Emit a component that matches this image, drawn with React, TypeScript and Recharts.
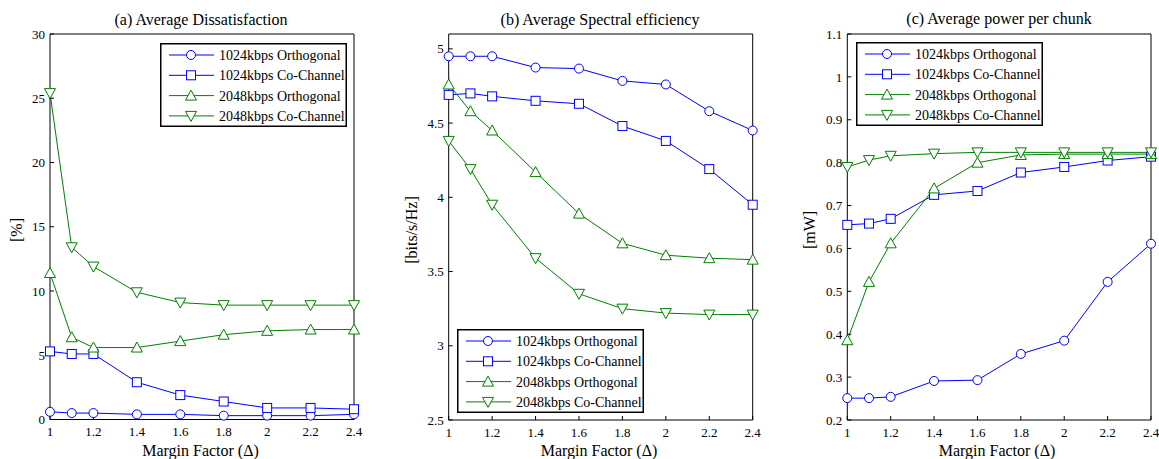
import React from "react";
import { LineChart, Line, XAxis, YAxis } from "recharts";

const margins = [1, 1.1, 1.2, 1.4, 1.6, 1.8, 2, 2.2, 2.4];
const xTicks = [1, 1.2, 1.4, 1.6, 1.8, 2, 2.2, 2.4];

const seriesNames = [
  "1024kbps Orthogonal",
  "1024kbps Co-Channel",
  "2048kbps Orthogonal",
  "2048kbps Co-Channel",
];

// (a) Average Dissatisfaction [%]
const dissOrth1024 = [0.6, 0.5, 0.5, 0.4, 0.4, 0.3, 0.3, 0.3, 0.4];
const dissCo1024 = [5.3, 5.1, 5.1, 2.9, 1.9, 1.4, 0.9, 0.9, 0.8];
const dissOrth2048 = [11.4, 6.4, 5.6, 5.6, 6.1, 6.6, 6.9, 7.0, 7.0];
const dissCo2048 = [25.4, 13.4, 11.9, 9.9, 9.1, 8.9, 8.9, 8.9, 8.9];
const dissTicks = [0, 5, 10, 15, 20, 25, 30];

// (b) Average Spectral efficiency [bits/s/Hz]
const seOrth1024 = [4.95, 4.95, 4.95, 4.874, 4.867, 4.784, 4.76, 4.58, 4.45];
const seCo1024 = [4.69, 4.7, 4.68, 4.65, 4.63, 4.48, 4.38, 4.19, 3.95];
const seOrth2048 = [4.76, 4.58, 4.45, 4.17, 3.89, 3.69, 3.61, 3.59, 3.58];
const seCo2048 = [4.38, 4.19, 3.95, 3.59, 3.35, 3.25, 3.22, 3.21, 3.21];
const seTicks = [2.5, 3, 3.5, 4, 4.5, 5];

// (c) Average power per chunk [mW]
const pwOrth1024 = [0.251, 0.251, 0.254, 0.291, 0.293, 0.354, 0.385, 0.522, 0.611];
const pwCo1024 = [0.655, 0.658, 0.669, 0.725, 0.734, 0.777, 0.79, 0.805, 0.814];
const pwOrth2048 = [0.386, 0.522, 0.612, 0.74, 0.8, 0.818, 0.82, 0.82, 0.82];
const pwCo2048 = [0.79, 0.806, 0.816, 0.821, 0.824, 0.824, 0.824, 0.824, 0.824];
const pwTicks = [0.2, 0.3, 0.4, 0.5, 0.6, 0.7, 0.8, 0.9, 1, 1.1];

const BLUE = "#0000ff";
const GREEN = "#008000";
const FONT = "'Liberation Serif', 'Times New Roman', serif";
const colors = [BLUE, BLUE, GREEN, GREEN];
const shapes = ["circle", "square", "up", "down"];

function Marker({ shape, cx, cy, color }: { shape: string; cx: number; cy: number; color: string }) {
  if (cx == null || cy == null || isNaN(cx) || isNaN(cy)) return null;
  const common = { fill: "#fff", stroke: color, strokeWidth: 1 };
  if (shape === "circle") return <circle cx={cx} cy={cy} r={4.5} {...common} />;
  if (shape === "square") return <rect x={cx - 4.5} y={cy - 4.5} width={9} height={9} {...common} />;
  if (shape === "up")
    return <polygon points={`${cx},${cy - 5.5} ${cx + 5.5},${cy + 4.5} ${cx - 5.5},${cy + 4.5}`} {...common} />;
  return <polygon points={`${cx},${cy + 5.5} ${cx + 5.5},${cy - 4.5} ${cx - 5.5},${cy - 4.5}`} {...common} />;
}

function Legend({ x, y }: { x: number; y: number }) {
  return (
    <svg
      style={{ position: "absolute", left: x, top: y, overflow: "visible" }}
      width={187}
      height={84}
    >
      <rect x={0.75} y={0.75} width={185.5} height={82.5} fill="#fff" stroke="#000" strokeWidth={1.5} />
      {seriesNames.map((name, i) => {
        const ry = 12 + i * 20.3;
        return (
          <g key={name}>
            <line x1={9} x2={54} y1={ry} y2={ry} stroke={colors[i]} strokeWidth={1} />
            <Marker shape={shapes[i]} cx={31} cy={ry} color={colors[i]} />
            <text x={59} y={ry} dy="0.35em" fontSize={14} fontFamily={FONT} fill="#000">
              {name}
            </text>
          </g>
        );
      })}
    </svg>
  );
}

function Label({ x, y, text, rotate }: { x: number; y: number; text: string; rotate?: boolean }) {
  return (
    <div
      style={{
        position: "absolute",
        left: x,
        top: y,
        transform: `translate(-50%, -50%)${rotate ? " rotate(-90deg)" : ""}`,
        whiteSpace: "nowrap",
        fontFamily: FONT,
        fontSize: 16,
        color: "#000",
        lineHeight: 1,
      }}
    >
      {text}
    </div>
  );
}

interface PanelProps {
  left: number;
  width: number;
  plotL: number;
  plotR: number;
  plotT: number;
  plotB: number;
  domain: [number, number];
  yTicks: number[];
  series: number[][];
}

function Panel({ left, width, plotL, plotR, plotT, plotB, domain, yTicks, series }: PanelProps) {
  const data = margins.map((m, i) => ({
    x: m,
    s0: series[0][i],
    s1: series[1][i],
    s2: series[2][i],
    s3: series[3][i],
  }));
  const tickStyle = { fill: "#000", fontSize: 13, fontFamily: FONT };
  return (
    <div style={{ position: "absolute", left, top: 0 }}>
      <LineChart
        width={width}
        height={459}
        data={data}
        margin={{
          top: plotT - 1,
          bottom: 459 - plotB - 30,
          left: 10,
          right: left + width - plotR - 1,
        }}
      >
        <XAxis
          dataKey="x"
          type="number"
          domain={[1, 2.4]}
          ticks={xTicks}
          interval={0}
          height={30}
          tickSize={-4}
          tickMargin={11.5}
          tick={tickStyle}
          stroke="#000"
        />
        <XAxis
          xAxisId="top"
          orientation="top"
          type="number"
          domain={[1, 2.4]}
          ticks={xTicks}
          interval={0}
          allowDataOverflow
          height={1}
          tickSize={-4}
          tick={false}
          stroke="#000"
        />
        <YAxis
          type="number"
          domain={domain}
          ticks={yTicks}
          interval={0}
          width={plotL - left - 10}
          tickSize={-4}
          tickMargin={9}
          tick={tickStyle}
          stroke="#000"
        />
        <YAxis
          yAxisId="right"
          orientation="right"
          type="number"
          domain={domain}
          ticks={yTicks}
          interval={0}
          allowDataOverflow
          width={1}
          tickSize={-4}
          tick={false}
          stroke="#000"
        />
        {series.map((_, i) => (
          <Line
            key={i}
            dataKey={`s${i}`}
            stroke={colors[i]}
            strokeWidth={1}
            isAnimationActive={false}
            activeDot={false}
            dot={(p: any) => <Marker key={p.index} shape={shapes[i]} cx={p.cx} cy={p.cy} color={colors[i]} />}
          />
        ))}
      </LineChart>
    </div>
  );
}

export default function App() {
  return (
    <div
      style={{
        position: "absolute",
        left: 0,
        top: 0,
        width: 1159,
        height: 459,
        background: "#fff",
        overflow: "hidden",
      }}
    >
      <Panel
        left={0}
        width={390}
        plotL={50}
        plotR={354}
        plotT={34}
        plotB={419.5}
        domain={[0, 30]}
        yTicks={dissTicks}
        series={[dissOrth1024, dissCo1024, dissOrth2048, dissCo2048]}
      />
      <Panel
        left={380}
        width={390}
        plotL={448.7}
        plotR={752.7}
        plotT={34}
        plotB={420}
        domain={[2.5, 5.1]}
        yTicks={seTicks}
        series={[seOrth1024, seCo1024, seOrth2048, seCo2048]}
      />
      <Panel
        left={770}
        width={389}
        plotL={847.3}
        plotR={1151}
        plotT={34}
        plotB={420}
        domain={[0.2, 1.1]}
        yTicks={pwTicks}
        series={[pwOrth1024, pwCo1024, pwOrth2048, pwCo2048]}
      />

      <Label x={201} y={20} text="(a) Average Dissatisfaction" />
      <Label x={600} y={20} text="(b) Average Spectral efficiency" />
      <Label x={999} y={19} text="(c) Average power per chunk" />

      <Label x={200.5} y={451} text="Margin Factor (Δ)" />
      <Label x={599} y={451} text="Margin Factor (Δ)" />
      <Label x={997} y={451} text="Margin Factor (Δ)" />

      <Label x={17} y={230} text="[%]" rotate />
      <Label x={412} y={230} text="[bits/s/Hz]" rotate />
      <Label x={810} y={230} text="[mW]" rotate />

      <Legend x={160} y={43} />
      <Legend x={456.7} y={329} />
      <Legend x={855.7} y={41.7} />
    </div>
  );
}
